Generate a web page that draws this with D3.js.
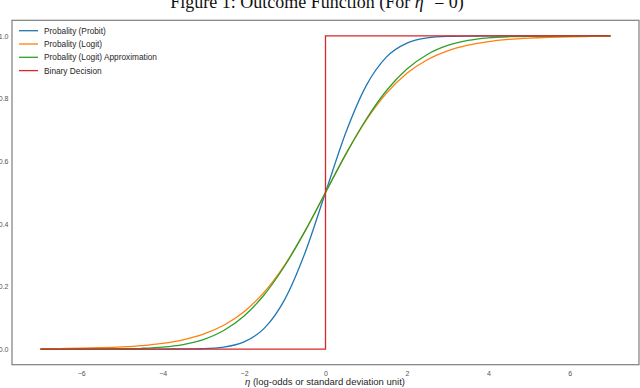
<!DOCTYPE html>
<html>
<head>
<meta charset="utf-8">
<script src="https://cdn.jsdelivr.net/npm/d3@7"></script>
<style>
    body { margin: 0; background: #fff; }
    svg { display: block; }
</style>
</head>
<body>
<svg width="640" height="388"></svg>
<script>
// values, every 0.5 on the eta axis
let eta = [-7, -6.5, -6, -5.5, -5, -4.5, -4, -3.5, -3, -2.5, -2, -1.5, -1, -0.5, 0,
           0.5, 1, 1.5, 2, 2.5, 3, 3.5, 4, 4.5, 5, 5.5, 6, 6.5, 7];

let probit = [0, 0, 0, 0, 0, 0, 0.00003, 0.00023, 0.00135, 0.0062, 0.0228, 0.0668, 0.1587, 0.3085, 0.5,
              0.6915, 0.8413, 0.9332, 0.9772, 0.9938, 0.99865, 0.99977, 0.99997, 1, 1, 1, 1, 1, 1];

let logit = [0.0009, 0.0015, 0.0025, 0.0041, 0.0067, 0.0110, 0.0180, 0.0293, 0.0474, 0.0759, 0.1192, 0.1824, 0.2689, 0.3775, 0.5,
             0.6225, 0.7311, 0.8176, 0.8808, 0.9241, 0.9526, 0.9707, 0.9820, 0.9890, 0.9933, 0.9959, 0.9975, 0.9985, 0.9991];

let approx = [0.00001, 0.00002, 0.00009, 0.00029, 0.00089, 0.00246, 0.0062, 0.0144, 0.0304, 0.0591, 0.1056, 0.1743, 0.2660, 0.3773, 0.5,
              0.6227, 0.7340, 0.8257, 0.8944, 0.9409, 0.9696, 0.9856, 0.9938, 0.99754, 0.99911, 0.99971, 0.99991, 0.99998, 0.99999];

let binaryX = [-7, 0, 0, 7];
let binaryY = [0, 0, 1, 1];

let names = ["Probality (Probit)", "Probality (Logit)", "Probality (Logit) Approximation", "Binary Decision"];
let colors = ["#1f77b4", "#ff7f0e", "#2ca02c", "#d62728"];

let xTicks = [-6, -4, -2, 0, 2, 4, 6];
let yTicks = [0, 0.2, 0.4, 0.6, 0.8, 1.0];

let pLeft = 12, pRight = 639, pTop = 20.3, pBottom = 364.7;

let svg = d3.select("svg");

let xScale = d3.scaleLinear()
                .domain([-7.7, 7.7])
                .range([pLeft, pRight]);

let yScale = d3.scaleLinear()
                .domain([-0.05, 1.05])
                .range([pBottom, pTop]);

// title, clipped at the top like the picture
let title = svg.append("text")
        .attr("x", 317)
        .attr("y", 7.5)
        .attr("text-anchor", "middle")
        .attr("font-family", "Liberation Serif, serif")
        .attr("font-size", 18)
        .attr("fill", "#111");
title.append("tspan").text("Figure 1: Outcome Function (For ");
title.append("tspan").attr("font-style", "italic").text("η");
title.append("tspan").attr("font-size", 12).attr("dy", -7).text("*");
title.append("tspan").attr("dy", 7).text(" = 0)");

// axes, no tick marks
let xAxis = d3.axisBottom(xScale)
                .tickValues(xTicks)
                .tickSize(0)
                .tickPadding(6)
                .tickFormat(d => d < 0 ? "\u2212" + Math.abs(d) : d);
svg.append("g")
        .call(xAxis)
        .attr("transform", "translate(0, " + pBottom + ")")
        .call(g => g.select(".domain").remove())
        .selectAll("text")
        .attr("font-family", "Liberation Sans, Arial, sans-serif")
        .attr("font-size", 7)
        .attr("fill", "#555");

let yAxis = d3.axisLeft(yScale)
                .tickValues(yTicks)
                .tickSize(0)
                .tickPadding(3.5)
                .tickFormat(d3.format(".1f"));
svg.append("g")
        .call(yAxis)
        .attr("transform", "translate(" + pLeft + ", 0)")
        .call(g => g.select(".domain").remove())
        .selectAll("text")
        .attr("font-family", "Liberation Sans, Arial, sans-serif")
        .attr("font-size", 7)
        .attr("fill", "#555");

// lines
let line = d3.line()
                .x(d => xScale(d[0]))
                .y(d => yScale(d[1]))
                .curve(d3.curveMonotoneX);

let series = [probit, logit, approx].map(vals => eta.map((e, i) => [e, vals[i]]));

series.forEach((s, i) => {
    svg.append("path")
            .datum(s)
            .attr("d", line)
            .attr("fill", "none")
            .attr("stroke", colors[i])
            .attr("stroke-width", 1.3);
});

svg.append("path")
        .datum(binaryX.map((x, i) => [x, binaryY[i]]))
        .attr("d", d3.line().x(d => xScale(d[0])).y(d => yScale(d[1])))
        .attr("fill", "none")
        .attr("stroke", colors[3])
        .attr("stroke-width", 1.3);

// frame
svg.append("rect")
        .attr("x", pLeft)
        .attr("y", pTop)
        .attr("width", pRight - pLeft)
        .attr("height", pBottom - pTop)
        .attr("fill", "none")
        .attr("stroke", "#7f7f7f")
        .attr("stroke-width", 1.2);

// legend
let legend = svg.selectAll(".legend")
        .data(names)
        .enter()
        .append("g")
        .attr("class", "legend")
        .attr("transform", (d, i) => "translate(0, " + (30.7 + i * 13.3) + ")");

legend.append("line")
        .attr("x1", 19)
        .attr("x2", 38)
        .attr("stroke", (d, i) => colors[i])
        .attr("stroke-width", 1.3);

legend.append("text")
        .attr("x", 44)
        .attr("dy", "0.35em")
        .attr("font-family", "Liberation Sans, Arial, sans-serif")
        .attr("font-size", 8.3)
        .attr("fill", "#262626")
        .text(d => d);

// x label
let xl = svg.append("text")
        .attr("x", 325)
        .attr("y", 385)
        .attr("text-anchor", "middle")
        .attr("font-family", "Liberation Sans, Arial, sans-serif")
        .attr("font-size", 9.5)
        .attr("fill", "#262626");
xl.append("tspan").attr("font-style", "italic").text("η");
xl.append("tspan").text(" (log-odds or standard deviation unit)");
</script>
</body>
</html>
